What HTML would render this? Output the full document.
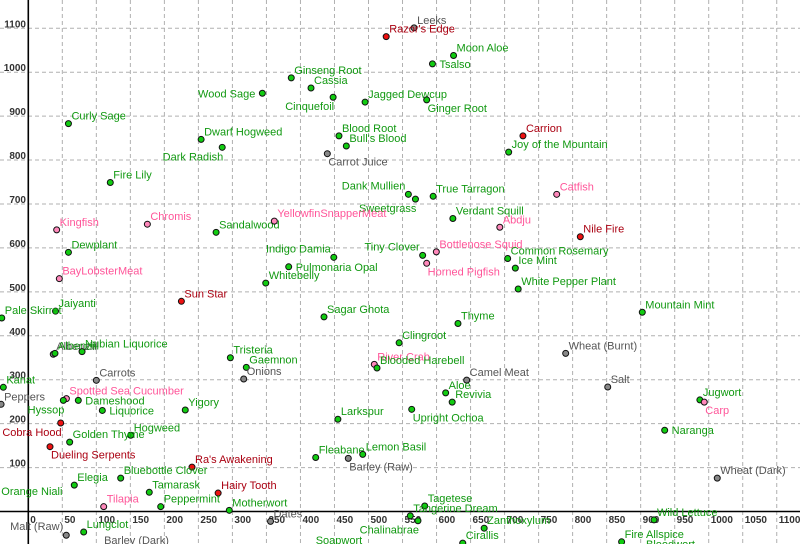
<!DOCTYPE html>
<html><head><meta charset="utf-8"><style>
html,body{margin:0;padding:0;background:#fff;}
svg{display:block;font-family:"Liberation Sans",Arial,sans-serif;}
</style></head><body>
<svg id="chart" width="800" height="544" viewBox="0 0 800 544" xmlns="http://www.w3.org/2000/svg">
<g id="grid"></g>
<g id="axes"></g>
<g id="marks"></g>
</svg>
<script>
const names = ["Curly Sage","Wood Sage","Dwarf Hogweed","Dark Radish","Fire Lily","Leeks","Razor's Edge","Moon Aloe","Tsalso","Ginseng Root","Cassia","Cinquefoil","Jagged Dewcup","Ginger Root","Blood Root","Bull's Blood","Carrot Juice","Carrion","Joy of the Mountain",
"Kingfish","Chromis","Sandalwood","Dewplant","BayLobsterMeat","Whitebelly","Sun Star","Jaiyanti","Pale Skirret",
"Dank Mullien","Sweetgrass","True Tarragon","Verdant Squill","Abdju","YellowfinSnapperMeat","Indigo Damia","Pulmonaria Opal","Tiny Clover","Bottlenose Squid","Horned Pigfish","Common Rosemary","Ice Mint","White Pepper Plant","Sagar Ghota","Thyme","Clingroot",
"Catfish","Nile Fire","Mountain Mint",
"Albenziil","Albenziil","Nubian Liquorice","Tristeria","Gaemnon","Onions","Carrots","Kanat","Peppers","Spotted Sea Cucumber","Hyssop","Dameshood","Liquorice","Yigory","Cobra Hood","Hogweed","Golden Thyme",
"Dueling Serpents","Ra's Awakening","Bluebottle Clover","Elegia","Orange Niali","Tamarask","Hairy Tooth","Tilapia","Peppermint","Motherwort","Malt (Raw)","Lungclot","Barley (Dark)",
"River Crab","Blooded Harebell","Camel Meat","Aloe","Revivia","Upright Ochoa","Larkspur",
"Fleabane","Barley (Raw)","Lemon Basil","Tagetese","Tangerine Dream","Chalinabrae","Dates","Zanthoxylum","Cirallis","Soapwort",
"Wheat (Burnt)","Salt","Jugwort","Carp","Naranga","Wheat (Dark)","Wild Lettuce","Fire Allspice","Bloodwort"];
const xValues = [59,344,254,285,120.5,567,526,625,594,386.5,415.5,448,495,585.5,456.6,467.4,439.5,727,706,
41.7,175,276,59,45.6,349,225,40,-39,
558.6,569,595,624,693,361.6,449,382.7,579.6,599.7,585.5,704.5,715.8,720,434.6,631.5,545,
776.6,811.3,902.4,
36.7,39.2,79,297,320.4,316.6,100,-36.7,-40,56,51.5,73.5,108.8,230.7,47.6,150.5,60.8,
31.9,240.6,135.8,67.6,-50,177.8,279,110.8,194.6,295.4,55.8,81.4,107,
508.5,512.5,644.3,613.4,623,563.5,455,
422.4,470.3,491.5,582.6,561.4,572.7,356,670,638.5,418,
789.8,851.6,987,993.5,935.3,1012.6,919.6,872,903.5];
const yValues = [883,952,847,829,749,1101,1081,1038,1019,987,964,943,932,937,855,832,814.5,855,818,
641,654,635.5,590,530,520,478.5,456,440.5,
722,711,717.5,667,647,661,578.6,557,583,591,565,576,554,506.5,443,428,384,
722,625.5,453.5,
358,360,364,350,328,301.6,298.6,282.7,244,257,253,253,230,231,201.5,173.5,158,
147.5,101,76,60,47,43.7,42,11,11,2.7,-54,-46.7,-83,
335,326.7,299,270,249,232.6,210,
123,121,130,12.5,-10,-21,-22.5,-38,-72,-83,
360,283.4,254,249,185,76,-19,-69,-92];
const groups = ["g","g","g","g","g","k","r","g","g","g","g","g","g","g","g","g","k","r","g",
"p","p","g","g","p","g","r","g","g",
"g","g","g","g","p","p","g","g","g","p","p","g","g","g","g","g","g",
"p","r","g",
"k","g","g","g","g","k","k","g","k","p","g","g","g","g","r","g","g",
"r","r","g","g","g","g","r","p","g","g","k","g","k",
"p","g","k","g","g","g","g",
"g","k","g","g","g","g","k","g","g","g",
"k","k","g","p","g","k","g","g","g"];
const labelPlace = ["r","l","r","lb","r","r","r","r","R","r","r","lb","r","rb","r","r","rb","r","r",
"r","r","r","r","r","r","r","r","r",
"lu","lb","r","r","r","r","lu","R","lu","r","rb","r","r","r","r","r","r",
"r","r","r",
"r","r","r","r","r","r","r","r","r","r","lb","R","R","r","lb","r","r",
"rb","r","r","r","R","r","r","r","r","r","lu","r","r",
"r","r","r","r","r","rb","r",
"r","rb","r","r","r","lb","r","r","r","r",
"r","r","r","rb","R","r","r","r","r"];
const xTicks = [0,50,100,150,200,250,300,350,400,450,500,550,600,650,700,750,800,850,900,950,1000,1050,1100];
const yTicks = [100,200,300,400,500,600,700,800,900,1000,1100];

const X0=28.3, XS=0.6804, Y0=511.5, YS=0.4393;
const sx = v => X0 + v*XS;
const sy = v => Y0 - v*YS;
const NS="http://www.w3.org/2000/svg";
const fills={g:"#11cc11",r:"#ee1111",p:"#ff88bb",k:"#888888"};
const txt={g:"#119911",r:"#aa0011",p:"#ff5599",k:"#555555"};
function mk(tag,attrs,parent){const e=document.createElementNS(NS,tag);for(const k in attrs)e.setAttribute(k,attrs[k]);parent.appendChild(e);return e;}
const grid=document.getElementById('grid'), axes=document.getElementById('axes'), marks=document.getElementById('marks');
xTicks.forEach(t=>{
  if(t!==0){
    const l=mk('line',{x1:sx(t),x2:sx(t),y1:0,y2:544,stroke:"#b0b0b0","stroke-width":1,"stroke-dasharray":"4,3"},grid);
    
    
  }
  const tx=mk('text',{x:sx(t)+2,y:523,"font-size":10,"font-weight":"bold",fill:"#333"},axes);
  tx.textContent=t;
  
  
});
yTicks.forEach(t=>{
  const l=mk('line',{x1:0,x2:800,y1:sy(t),y2:sy(t),stroke:"#b0b0b0","stroke-width":1,"stroke-dasharray":"4,3"},grid);
  
  
  const tx=mk('text',{x:26,y:sy(t)-1,"font-size":10,"font-weight":"bold",fill:"#333","text-anchor":"end"},axes);
  tx.textContent=t;
  
  
});
const xa=mk('line',{x1:0,x2:800,y1:Y0,y2:Y0,stroke:"#000","stroke-width":1.6},axes);


const ya=mk('line',{x1:X0,x2:X0,y1:0,y2:544,stroke:"#000","stroke-width":1.6},axes);



const off={r:[3,-4,"start"],R:[7,4,"start"],rb:[1,12,"start"],l:[-7,4,"end"],lb:[1,13,"end"],lu:[-3,-5,"end"]};
names.forEach((n,i)=>{
  const px=sx(xValues[i]), py=sy(yValues[i]), g=groups[i];
  const c=mk('circle',{cx:px,cy:py,r:3,fill:fills[g],stroke:"#111","stroke-width":1},marks);
  
  
  const o=off[labelPlace[i]];
  const t=mk('text',{x:px+o[0],y:py+o[1],"font-size":11,fill:txt[g],"text-anchor":o[2]},marks);
  t.textContent=n;
  
  
});
</script>
</body></html>
